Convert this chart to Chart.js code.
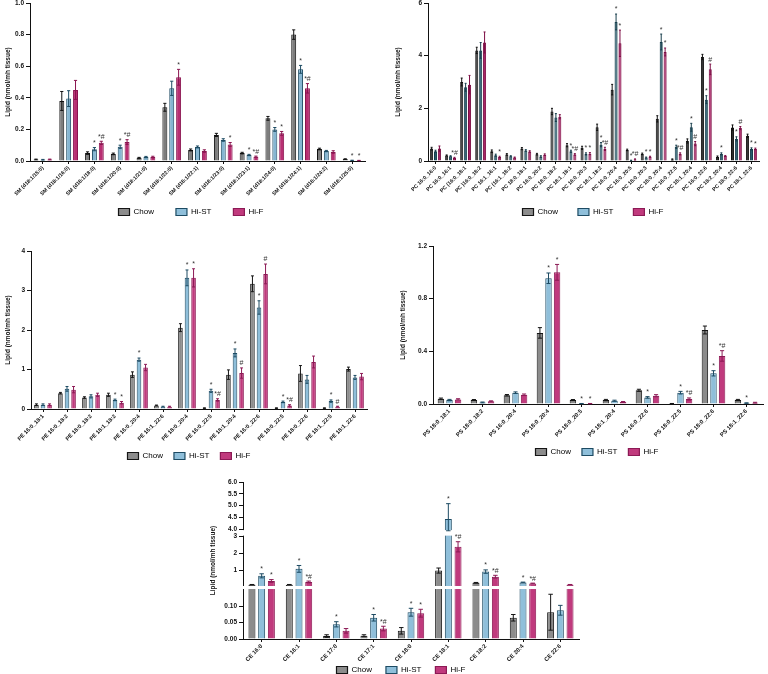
<!DOCTYPE html>
<html>
<head>
<meta charset="utf-8">
<script src="https://cdn.jsdelivr.net/npm/chart.js@4.4.0/dist/chart.umd.min.js"></script>
<style>
  html, body { margin: 0; padding: 0; background: #fff; }
  body { width: 768px; height: 674px; position: relative; overflow: hidden; }
  canvas { position: absolute; }
</style>
</head>
<body>
<canvas id="c-sm"></canvas>
<canvas id="c-pc"></canvas>
<canvas id="c-pe"></canvas>
<canvas id="c-ps"></canvas>
<canvas id="c-ce"></canvas>
<script>
// --- DONNÉES ---
const groups = ['Chow', 'Hi-ST', 'Hi-F'];

// SM
const smLabels = ['SM (d18:1/15:0)', 'SM (d18:1/16:0)', 'SM (d18:1/18:0)', 'SM (d18:1/20:0)', 'SM (d18:1/21:0)', 'SM (d18:1/22:0)', 'SM (d18:1/22:1)', 'SM (d18:1/23:0)', 'SM (d18:1/23:1)', 'SM (d18:1/24:0)', 'SM (d18:1/24:1)', 'SM (d18:1/24:2)', 'SM (d18:1/25:0)'];
const smChow = [0.01, 0.38, 0.05, 0.045, 0.02, 0.34, 0.07, 0.165, 0.05, 0.27, 0.80, 0.076, 0.012];
const smHiST = [0.008, 0.395, 0.075, 0.09, 0.025, 0.46, 0.089, 0.133, 0.038, 0.20, 0.58, 0.063, 0.004];
const smHiF = [0.01, 0.45, 0.115, 0.12, 0.025, 0.53, 0.063, 0.105, 0.027, 0.175, 0.46, 0.057, 0.003];
const smChowErr = [0.002, 0.06, 0.008, 0.005, 0.003, 0.025, 0.006, 0.01, 0.005, 0.012, 0.03, 0.005, 0.002];
const smHiSTErr = [0.002, 0.05, 0.01, 0.01, 0.004, 0.045, 0.006, 0.008, 0.004, 0.012, 0.025, 0.004, 0.001];
const smHiFErr = [0.002, 0.06, 0.01, 0.015, 0.005, 0.05, 0.008, 0.012, 0.004, 0.012, 0.03, 0.008, 0.001];
const smHiSTSig = ['', '', '*', '*', '', '', '', '', '*', '*', '*', '', '*'];
const smHiFSig = ['', '', '*#', '*#', '', '*', '', '*', '*#', '*', '*#', '', '*'];

// PC
const pcLabels = ['PC 16:0_16:0', 'PC 16:0_16:1', 'PC (16:0_18:1', 'PC )16:0_18:2', 'PC 16:1_16:1', 'PC (16:1_18:2', 'PC 18:0_18:1', 'PC 16:0_20:2', 'PC 18:0_18:2', 'PC 18:1_18:1', 'PC 16:0_20:3', 'PC 18:1_18:2', 'PC 16:0_20:4', 'PC 16:0_20:5', 'PC 18:0_20:3', 'PC 18:0_20:4', 'PC 16:0_22:5', 'PC 18:1_20:4', 'PC 16:0_22:6', 'PC 18:2_20:4', 'PC 18:0_22:6', 'PC 18:1_22:6'];
const pcChow = [0.47, 0.21, 3.0, 4.2, 0.37, 0.25, 0.47, 0.26, 1.88, 0.6, 0.5, 1.28, 2.71, 0.42, 0.27, 1.6, 0.06, 0.76, 3.95, 0.16, 1.27, 0.96];
const pcHiST = [0.37, 0.18, 2.8, 4.2, 0.22, 0.18, 0.40, 0.17, 1.65, 0.37, 0.27, 0.62, 5.28, 0.02, 0.13, 4.52, 0.54, 1.28, 2.33, 0.27, 0.84, 0.46];
const pcHiF = [0.47, 0.12, 2.9, 4.5, 0.15, 0.13, 0.36, 0.24, 1.68, 0.25, 0.28, 0.46, 4.47, 0.06, 0.16, 4.14, 0.27, 0.66, 3.48, 0.19, 1.25, 0.46];
const pcChowErr = [0.05, 0.02, 0.15, 0.12, 0.05, 0.03, 0.04, 0.03, 0.12, 0.06, 0.06, 0.12, 0.2, 0.03, 0.03, 0.12, 0.02, 0.08, 0.1, 0.03, 0.1, 0.06];
const pcHiSTErr = [0.04, 0.02, 0.15, 0.3, 0.04, 0.02, 0.03, 0.03, 0.15, 0.04, 0.04, 0.08, 0.3, 0.01, 0.02, 0.3, 0.06, 0.15, 0.15, 0.04, 0.08, 0.04];
const pcHiFErr = [0.1, 0.02, 0.35, 0.4, 0.03, 0.02, 0.03, 0.03, 0.08, 0.03, 0.04, 0.06, 0.5, 0.02, 0.02, 0.15, 0.04, 0.08, 0.2, 0.02, 0.06, 0.03];
const pcHiSTSig = ['', '', '', '', '', '', '', '', '', '*', '*', '*', '*', '*', '*', '*', '*', '*', '*', '*', '*', '*'];
const pcHiFSig = ['', '*#', '', '', '*', '', '', '', '', '*#', '*', '*#', '*', '*#', '*', '*', '*#', '#', '#', '', '#', '*'];

// PE
const peLabels = ['PE 16:0_18:1', 'PE 16:0_18:2', 'PE 18:0_18:2', 'PE 18:1_18:2', 'PE 16:0_20:4', 'PE 16:1_22:6', 'PE 18:0_20:4', 'PE 16:0_22:5', 'PE 18:1_20:4', 'PE 16:0_22:6', 'PE 18:0_22:5', 'PE 18:0_22:6', 'PE 18:1_22:5', 'PE 18:1_22:6'];
const peChow = [0.11, 0.40, 0.29, 0.36, 0.87, 0.09, 2.06, 0.02, 0.87, 3.17, 0.02, 0.9, 0.02, 1.01];
const peHiST = [0.11, 0.51, 0.32, 0.23, 1.25, 0.06, 3.32, 0.46, 1.42, 2.57, 0.18, 0.75, 0.2, 0.8];
const peHiF = [0.11, 0.49, 0.36, 0.16, 1.05, 0.06, 3.32, 0.23, 0.91, 3.42, 0.09, 1.19, 0.06, 0.82];
const peChowErr = [0.02, 0.02, 0.02, 0.04, 0.07, 0.01, 0.1, 0.01, 0.12, 0.2, 0.01, 0.2, 0.01, 0.05];
const peHiSTErr = [0.02, 0.06, 0.04, 0.02, 0.04, 0.01, 0.2, 0.04, 0.1, 0.17, 0.02, 0.1, 0.03, 0.05];
const peHiFErr = [0.02, 0.08, 0.04, 0.03, 0.08, 0.01, 0.23, 0.03, 0.13, 0.25, 0.02, 0.15, 0.01, 0.08];
const peHiSTSig = ['', '', '', '*', '*', '', '*', '*', '*', '*', '*', '', '*', ''];
const peHiFSig = ['', '', '', '*', '', '', '*', '*#', '#', '#', '*#', '', '#', ''];

// PS
const psLabels = ['PS 18:0_18:1', 'PS 18:0_18:2', 'PS 16:0_20:4', 'PS 18:0_20:4', 'PS 18:0_20:5', 'PS 18:1_20:4', 'PS 16:0_22:6', 'PS 18:0_22:5', 'PS 18:0_22:6', 'PS 18:1_22:6'];
const psChow = [0.04, 0.03, 0.066, 0.54, 0.03, 0.03, 0.104, 0.003, 0.562, 0.03];
const psHiST = [0.03, 0.012, 0.086, 0.955, 0.003, 0.025, 0.05, 0.086, 0.233, 0.007];
const psHiF = [0.035, 0.02, 0.07, 1.0, 0.003, 0.015, 0.063, 0.038, 0.365, 0.01];
const psChowErr = [0.005, 0.004, 0.006, 0.04, 0.004, 0.005, 0.008, 0.001, 0.03, 0.005];
const psHiSTErr = [0.005, 0.003, 0.006, 0.04, 0.001, 0.004, 0.006, 0.01, 0.02, 0.002];
const psHiFErr = [0.005, 0.004, 0.006, 0.06, 0.001, 0.004, 0.008, 0.008, 0.04, 0.003];
const psHiSTSig = ['', '', '', '*', '*', '', '*', '*', '*', '*'];
const psHiFSig = ['', '', '', '*', '*', '', '', '*#', '*#', ''];

// CE (axe coupé)
const ceLabels = ['CE 16:0', 'CE 16:1', 'CE 17:0', 'CE 17:1', 'CE 18:0', 'CE 18:1', 'CE 18:2', 'CE 20:4', 'CE 22:6'];
const ceChow = [0.17, 0.17, 0.009, 0.01, 0.025, 1.0, 0.28, 0.065, 0.082];
const ceHiST = [0.69, 1.1, 0.045, 0.065, 0.082, 4.43, 0.94, 0.3, 0.088];
const ceHiF = [0.39, 0.33, 0.025, 0.032, 0.079, 2.4, 0.64, 0.24, 0.17];
const ceChowErr = [0.01, 0.01, 0.004, 0.003, 0.01, 0.15, 0.02, 0.01, 0.055];
const ceHiSTErr = [0.12, 0.2, 0.008, 0.01, 0.012, 0.65, 0.1, 0.02, 0.015];
const ceHiFErr = [0.08, 0.05, 0.007, 0.007, 0.012, 0.3, 0.08, 0.02, 0.01];
const ceHiSTSig = ['*', '*', '*', '*', '*', '*', '*', '*', ''];
const ceHiFSig = ['*', '*#', '', '*#', '*', '*#', '*#', '*#', ''];
const ceTicks = [0, 0.05, 0.10, 1, 2, 3, 4.0, 4.5, 5.0, 5.5, 6.0];

// --- STYLE ---
const FONT = '"Liberation Sans", Arial, Helvetica, sans-serif';
Chart.defaults.font.family = FONT;
Chart.defaults.color = '#111';

const LIGHT = [['#8c8c8c', '#151515'], ['#8fbfda', '#1d4b63'], ['#c03a7d', '#8c1a55']];
const SMCOL = [['#7d7d7d', '#111111'], ['#86b6d2', '#1d4b63'], ['#b82f72', '#8a1550']];
const DARK = [['#2e2e2e', '#111111'], ['#255b6d', '#173e4c'], ['#a51e60', '#7d0f46']];

const X_AXIS_H = 50; // hauteur de la zone des étiquettes inclinées

// --- AXE Y COUPÉ (CE) : valeur -> fraction de la hauteur ---
const CE_BREAKS = [
  { lo: 0, hi: 0.15, a: 0, b: 0.312 },
  { lo: 0.15, hi: 3, a: 0.344, b: 0.652 },
  { lo: 4, hi: 6, a: 0.70, b: 1 }
];
function brokenDecimal(v) {
  for (let i = 0; i < CE_BREAKS.length; i++) {
    const s = CE_BREAKS[i];
    if (v <= s.hi) {
      if (v >= s.lo || i === 0) return s.a + (v - s.lo) / (s.hi - s.lo) * (s.b - s.a);
      const prev = CE_BREAKS[i - 1];
      return prev.b + (v - prev.hi) / (s.lo - prev.hi) * (s.a - prev.b);
    }
  }
  return 1;
}
class BrokenScale extends Chart.LinearScale {
  getPixelForValue(value) {
    if (value === null || value === undefined) return NaN;
    return this.getPixelForDecimal(brokenDecimal(value));
  }
}
BrokenScale.id = 'broken';
BrokenScale.defaults = Chart.LinearScale.defaults;
Chart.register(BrokenScale);

// Barres d'erreur, étoiles de significativité et coupures blanches
const errorBars = {
  id: 'errorBars',
  afterDatasetsDraw(chart, args, o) {
    const { ctx, chartArea } = chart;
    const y = chart.scales.y;
    ctx.save();
    (o.gaps || []).forEach(g => {
      const pLow = y.getPixelForDecimal(g[0]);
      const pHigh = y.getPixelForDecimal(g[1]);
      ctx.fillStyle = '#fff';
      ctx.fillRect(chartArea.left - 2, pHigh + 1, chartArea.right - chartArea.left + 4, pLow - pHigh - 2);
    });
    chart.data.datasets.forEach((ds, i) => {
      const meta = chart.getDatasetMeta(i);
      meta.data.forEach((bar, j) => {
        const v = ds.data[j];
        const e = ds.errors[j];
        const top = y.getPixelForValue(v + e);
        const low = y.getPixelForValue(Math.max(v - e, 0));
        const half = Math.max(bar.width * 0.32, 1);
        ctx.strokeStyle = ds.borderColor;
        ctx.lineWidth = 1;
        ctx.beginPath();
        ctx.moveTo(bar.x, low);
        ctx.lineTo(bar.x, top);
        ctx.moveTo(bar.x - half, top);
        ctx.lineTo(bar.x + half, top);
        ctx.moveTo(bar.x - half, low);
        ctx.lineTo(bar.x + half, low);
        ctx.stroke();
        const s = ds.sig[j];
        if (s) {
          ctx.fillStyle = '#333';
          ctx.font = '7px ' + FONT;
          ctx.textAlign = 'center';
          ctx.textBaseline = 'bottom';
          ctx.fillText(s, bar.x, top - 1);
        }
      });
    });
    ctx.restore();
  }
};

// Place la légende sous chaque panneau comme sur la figure
const legendPlace = {
  id: 'legendPlace',
  afterLayout(chart, args, o) {
    const lg = chart.legend;
    if (!lg) return;
    const w = lg.right - lg.left;
    const h = lg.bottom - lg.top;
    lg.left = o.cx - w / 2;
    lg.right = lg.left + w;
    lg.top = o.cy - o.pad - 4;
    lg.bottom = lg.top + h;
  }
};

function makeSets(values, errors, sigs, colors) {
  return groups.map((g, k) => ({
    label: g,
    data: values[k],
    errors: errors[k],
    sig: sigs[k],
    backgroundColor: colors[k][0],
    borderColor: colors[k][1],
    borderWidth: 1
  }));
}

function drawPanel(p) {
  const canvas = document.getElementById(p.id);
  const left = p.axisX - p.yW;
  const top = p.top - 6;
  const legendH = 8 + p.legendPad + 10;
  canvas.width = p.right - left + 4;
  canvas.height = 6 + (p.bottom - p.top) + X_AXIS_H + legendH;
  canvas.style.left = left + 'px';
  canvas.style.top = top + 'px';

  const yScale = p.yScale || {
    type: 'linear',
    min: 0,
    max: p.yMax,
    ticks: { stepSize: p.yStep, callback: v => v.toFixed(p.yDec) }
  };
  yScale.afterFit = s => { s.width = p.yW; };
  yScale.grid = { drawOnChartArea: false, drawTicks: true, tickLength: 4, color: '#111' };
  yScale.border = { color: '#111', width: 1 };
  yScale.ticks = Object.assign({ font: { size: 6.5, weight: 'bold' }, color: '#111', padding: 2, autoSkip: false }, yScale.ticks);
  yScale.title = { display: true, text: 'Lipid (nmol/mh tissue)', font: { size: 6.5, weight: 'bold' }, color: '#111', padding: { top: 4, bottom: 2 } };

  return new Chart(canvas, {
    type: 'bar',
    data: { labels: p.labels, datasets: p.datasets },
    options: {
      responsive: false,
      animation: false,
      layout: { padding: { top: 6, right: 4, left: 0, bottom: 0 } },
      datasets: { bar: { categoryPercentage: p.cat, barPercentage: p.bar } },
      plugins: {
        tooltip: { enabled: false },
        legend: {
          position: 'bottom',
          fullSize: false,
          labels: {
            boxWidth: 11,
            boxHeight: 7,
            padding: p.legendPad,
            color: '#222',
            font: { size: 8 },
            generateLabels: () => groups.map((g, k) => ({
              text: g,
              fillStyle: LIGHT[k][0],
              strokeStyle: LIGHT[k][1],
              lineWidth: 1.2,
              hidden: false,
              datasetIndex: k
            }))
          }
        },
        errorBars: { gaps: p.gaps },
        legendPlace: { cx: p.legendX - left, cy: p.legendY - top, pad: p.legendPad }
      },
      scales: {
        x: {
          afterFit: s => { s.height = X_AXIS_H; },
          grid: { offset: false, drawOnChartArea: false, drawTicks: true, tickLength: 3, color: '#111' },
          border: { color: '#111', width: 1 },
          ticks: { minRotation: 45, maxRotation: 45, autoSkip: false, padding: 1, color: '#111', font: { size: p.xFont, weight: 'bold' } }
        },
        y: yScale
      }
    },
    plugins: [errorBars, legendPlace]
  });
}

// --- PANNEAUX ---
drawPanel({
  id: 'c-sm', labels: smLabels,
  datasets: makeSets([smChow, smHiST, smHiF], [smChowErr, smHiSTErr, smHiFErr], [[], smHiSTSig, smHiFSig], SMCOL),
  axisX: 30, yW: 30, top: 3, bottom: 161, right: 365,
  yMax: 1.0, yStep: 0.2, yDec: 1, cat: 0.8, bar: 0.72, xFont: 5.3,
  legendX: 191, legendY: 212, legendPad: 22
});

drawPanel({
  id: 'c-pc', labels: pcLabels,
  datasets: makeSets([pcChow, pcHiST, pcHiF], [pcChowErr, pcHiSTErr, pcHiFErr], [[], pcHiSTSig, pcHiFSig], DARK),
  axisX: 428, yW: 38, top: 3, bottom: 161, right: 759,
  yMax: 6, yStep: 2, yDec: 0, cat: 0.78, bar: 0.78, xFont: 5.3,
  legendX: 593, legendY: 212, legendPad: 20
});

drawPanel({
  id: 'c-pe', labels: peLabels,
  datasets: makeSets([peChow, peHiST, peHiF], [peChowErr, peHiSTErr, peHiFErr], [[], peHiSTSig, peHiFSig], LIGHT),
  axisX: 31, yW: 31, top: 251, bottom: 409, right: 367,
  yMax: 4, yStep: 1, yDec: 0, cat: 0.82, bar: 0.7, xFont: 5.6,
  legendX: 189, legendY: 456, legendPad: 11
});

drawPanel({
  id: 'c-ps', labels: psLabels,
  datasets: makeSets([psChow, psHiST, psHiF], [psChowErr, psHiSTErr, psHiFErr], [[], psHiSTSig, psHiFSig], LIGHT),
  axisX: 433, yW: 38, top: 246, bottom: 404, right: 763,
  yMax: 1.2, yStep: 0.4, yDec: 1, cat: 0.78, bar: 0.75, xFont: 5.8,
  legendX: 597, legendY: 452, legendPad: 11
});

drawPanel({
  id: 'c-ce', labels: ceLabels,
  datasets: makeSets([ceChow, ceHiST, ceHiF], [ceChowErr, ceHiSTErr, ceHiFErr], [[], ceHiSTSig, ceHiFSig], LIGHT),
  axisX: 243, yW: 38, top: 482, bottom: 639, right: 579,
  cat: 0.78, bar: 0.72, xFont: 5.8,
  gaps: [[0.312, 0.344], [0.652, 0.70]],
  yScale: {
    type: 'broken', min: 0, max: 6,
    afterBuildTicks: s => { s.ticks = ceTicks.map(v => ({ value: v })); },
    ticks: { callback: v => v >= 4 ? v.toFixed(1) : (v >= 1 ? String(v) : v.toFixed(2)) }
  },
  legendX: 401, legendY: 670, legendPad: 14
});
</script>
</body>
</html>
